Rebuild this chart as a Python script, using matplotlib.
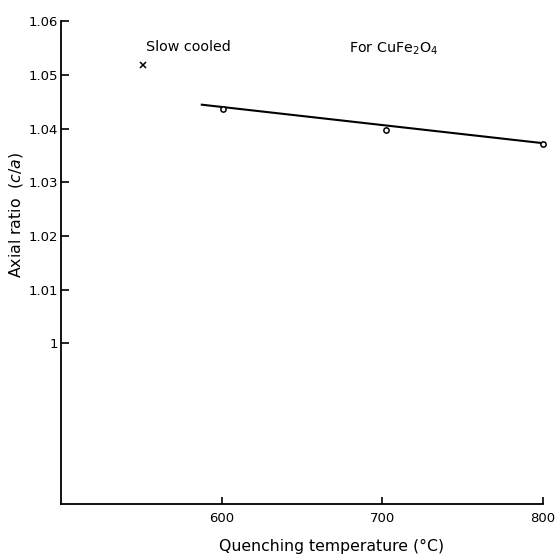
import matplotlib

matplotlib.use("Agg")
import matplotlib.pyplot as plt

# quenched samples (open circles)
quench_temp = [601, 702, 800]
axial_ratio = [1.0437, 1.0398, 1.0372]

# fitted straight line through the quenched samples
fit_temp = [587, 800]
fit_ratio = [1.0445, 1.0373]

# slow cooled sample (cross)
slow_temp = [551]
slow_ratio = [1.0519]

x_ticks = [600, 700, 800]
y_ticks = [1.0, 1.01, 1.02, 1.03, 1.04, 1.05, 1.06]
y_tick_labels = ["1", "1.01", "1.02", "1.03", "1.04", "1.05", "1.06"]

plt.rcParams["font.family"] = ["DejaVu Sans"]

fig = plt.figure(figsize=(5.56, 5.58), dpi=100)
ax = fig.add_axes([0.1097, 0.0968, 0.8669, 0.8647])

ax.plot(fit_temp, fit_ratio, color="black", lw=1.5, solid_capstyle="butt")
ax.plot(quench_temp, axial_ratio, "o", ms=3.8, mfc="white", mec="black",
        mew=1.1, clip_on=False, zorder=3)
ax.plot(slow_temp, slow_ratio, "x", ms=3.8, mec="black", mew=1.1)

ax.text(553, 1.0552, "Slow cooled", fontsize=10.3, va="center", ha="left")
ax.text(679, 1.0549, r"For CuFe$_2$O$_4$", fontsize=10.3, va="center", ha="left")

ax.set_xlim(500, 800)
ax.set_ylim(0.97, 1.06)
ax.set_xticks(x_ticks)
ax.set_yticks(y_ticks)
ax.set_yticklabels(y_tick_labels)

for side in ("top", "right"):
    ax.spines[side].set_visible(False)
for side in ("left", "bottom"):
    ax.spines[side].set_linewidth(1.3)

ax.tick_params(axis="y", direction="in", length=6, width=1.2, pad=2, labelsize=9.5)
ax.tick_params(axis="x", direction="in", length=5, width=1.2, pad=6, labelsize=9.5)

ax.set_xlabel("Quenching temperature (°C)", fontsize=11.3)
ax.xaxis.set_label_coords(0.562, -0.072)
ax.set_ylabel(r"Axial ratio  ($\it{c/a}$)", fontsize=11.3)
ax.yaxis.set_label_coords(-0.075, 0.6)

fig.savefig("out.png", dpi=100)
